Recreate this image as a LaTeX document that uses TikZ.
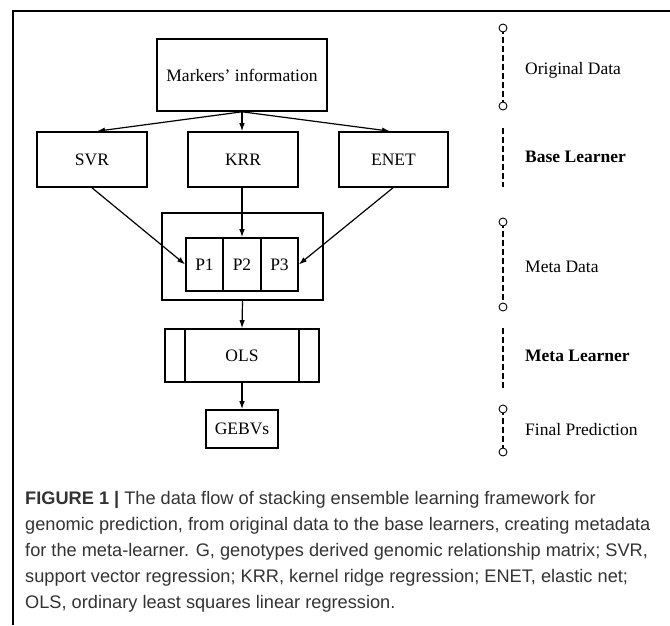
\documentclass[tikz,border=0pt]{standalone}
\usepackage{fontspec}
\setmainfont{Liberation Serif}
\newfontfamily\capfont{Liberation Sans}
\usetikzlibrary{arrows.meta,calc}

\definecolor{captext}{HTML}{333333}

\tikzset{
  box/.style={draw, line width=1.6pt, rectangle, inner sep=0pt, font=\fontsize{17.5}{20}\selectfont},
  flow/.style={line width=1.2pt, -{Latex[length=8pt,width=5.5pt]}},
  stage/.style={line width=1.9pt, dash pattern=on 6pt off 3pt},
  dot/.style={circle, draw, line width=0.9pt, fill=white, minimum size=8pt, inner sep=0pt},
  stagelabel/.style={anchor=west, inner sep=0pt, font=\fontsize{17.5}{20}\selectfont},
  capline/.style={anchor=base west, inner sep=0pt, text=captext, font=\capfont\fontsize{18.2}{22}\selectfont}
}

\begin{document}
\begin{tikzpicture}[x=1pt, y=-1pt]
  \useasboundingbox (0,0) rectangle (670,625);

  % frame
  \draw[line width=1.3pt] (13,625) -- (13,11) -- (670,11);

  % boxes of the flow
  \node[box, minimum width=170pt, minimum height=72pt] (mk) at (242,75) {Markers' information};
  \node[box, minimum width=110pt, minimum height=55pt] (svr) at (92,159.5) {SVR};
  \node[box, minimum width=110pt, minimum height=55pt] (krr) at (243,159.5) {KRR};
  \node[box, minimum width=109pt, minimum height=55pt] (enet) at (393.5,159.5) {ENET};

  \node[box, minimum width=161pt, minimum height=87pt] (meta) at (242.5,256.5) {};
  \node[box, minimum width=37pt, minimum height=53pt] (p1) at (204.5,264.5) {P1};
  \node[box, minimum width=38pt, minimum height=53pt] (p2) at (242,264.5) {P2};
  \node[box, minimum width=37pt, minimum height=53pt] (p3) at (279.5,264.5) {P3};

  \node[box, minimum width=154pt, minimum height=53pt] (ols) at (242,355.5) {OLS};
  \draw[line width=1.6pt] ($(ols.north west)+(21,0)$) -- ($(ols.south west)+(21,0)$);
  \draw[line width=1.6pt] ($(ols.north east)+(-21,0)$) -- ($(ols.south east)+(-21,0)$);

  \node[box, minimum width=72pt, minimum height=38pt] (gebv) at (242,429) {GEBVs};

  % connectors
  \draw[flow] (mk.south) -- ($(svr.north)+(5,0)$);
  \draw[flow] (mk.south) -- (mk.south |- krr.north);
  \draw[flow] (mk.south) -- ($(enet.north)+(-3.5,0)$);
  \draw[flow] (svr.south) -- (p1.west);
  \draw[flow] (krr.south -| p2.north) -- (p2.north);
  \draw[flow] ($(enet.south)+(-0.5,0)$) -- (p3.east);
  \draw[flow] (meta.south) -- (ols.north);
  \draw[flow] (ols.south) -- (gebv.north);

  % stage markers on the right
  \coordinate (s1a) at (503,28);  \coordinate (s1b) at (503,106);
  \coordinate (s2a) at (503,128); \coordinate (s2b) at (503,187);
  \coordinate (s3a) at (503,222); \coordinate (s3b) at (503,307);
  \coordinate (s4a) at (503,328); \coordinate (s4b) at (503,388);
  \coordinate (s5a) at (503,409); \coordinate (s5b) at (503,452);

  \draw[stage] (s1a) -- (s1b);
  \draw[stage] (s2a) -- (s2b);
  \draw[stage] (s3a) -- (s3b);
  \draw[stage] (s4a) -- (s4b);
  \draw[stage] (s5a) -- (s5b);
  \node[dot] (d1a) at (s1a) {}; \node[dot] (d1b) at (s1b) {};
  \node[dot] (d3a) at (s3a) {}; \node[dot] (d3b) at (s3b) {};
  \node[dot] (d5a) at (s5a) {}; \node[dot] (d5b) at (s5b) {};

  \node[stagelabel] (l1) at (525,70) {Original Data};
  \node[stagelabel] (l2) at (525,157) {\bfseries Base Learner};
  \node[stagelabel] (l3) at (525,267) {Meta Data};
  \node[stagelabel] (l4) at (525,356) {\bfseries Meta Learner};
  \node[stagelabel] (l5) at (525,430) {Final Prediction};

  % caption
  \node[capline] (c1) at (25,504) {\textbf{FIGURE 1 |} The data flow of stacking ensemble learning framework for};
  \node[capline] (c2) at (25,530) {genomic prediction, from original data to the base learners, creating metadata};
  \node[capline] (c3) at (25,556) {for the meta-learner. G, genotypes derived genomic relationship matrix; SVR,};
  \node[capline] (c4) at (25,582) {support vector regression; KRR, kernel ridge regression; ENET, elastic net;};
  \node[capline] (c5) at (25,608) {OLS, ordinary least squares linear regression.};
\end{tikzpicture}
\end{document}
